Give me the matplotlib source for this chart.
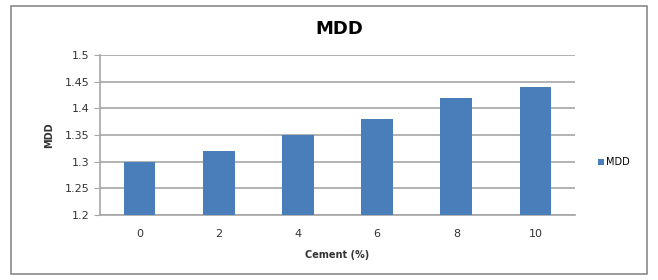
import numpy as np
import matplotlib.pyplot as plt
from matplotlib.patches import Rectangle

cement = ["0", "2", "4", "6", "8", "10"]
mdd = [1.30, 1.32, 1.35, 1.38, 1.42, 1.44]
y_ticks = [1.2, 1.25, 1.3, 1.35, 1.4, 1.45, 1.5]
y_labels = ["1.2", "1.25", "1.3", "1.35", "1.4", "1.45", "1.5"]

fig = plt.figure(figsize=(6.58, 2.8), dpi=100)
fig.patches.append(Rectangle((0.016, 0.02), 0.968, 0.96, transform=fig.transFigure,
                             fill=False, edgecolor="#8a8a8a", linewidth=1.2))
ax = fig.add_axes([0.152, 0.232, 0.722, 0.572])

x = np.arange(len(cement))
ax.bar(x, [v - 1.2 for v in mdd], bottom=1.2, width=0.4, color="#4a7ebb",
       label="MDD", zorder=3)

ax.set_ylim(1.2, 1.5)
ax.set_xlim(-0.5, len(cement) - 0.5)
ax.set_yticks(y_ticks)
ax.set_yticklabels(y_labels)
ax.set_xticks(x)
ax.set_xticklabels(cement)
ax.grid(axis="y", color="#a6a6a6", linewidth=1.2, zorder=0)
for s in ["top", "right"]:
    ax.spines[s].set_visible(False)
ax.spines["left"].set_color("#a6a6a6")
ax.spines["bottom"].set_color("#a6a6a6")
ax.spines["left"].set_linewidth(1.2)
ax.spines["bottom"].set_linewidth(1.2)
ax.tick_params(axis="y", length=4, color="#a6a6a6", labelsize=8, labelcolor="#333333")
ax.tick_params(axis="x", length=0, labelsize=8, labelcolor="#333333", pad=10)

ax.set_xlabel("Cement (%)", fontsize=7, fontweight="bold", color="#333333", labelpad=8)
ax.set_ylabel("MDD", fontsize=7, fontweight="bold", color="#333333", labelpad=8)
fig.text(0.515, 0.895, "MDD", fontsize=13, fontweight="bold", ha="center", va="center")

ax.legend(loc="center left", bbox_to_anchor=(1.03, 0.33), frameon=False, fontsize=7,
          handlelength=0.6, handleheight=0.6, handletextpad=0.2)

fig.savefig("out.png", dpi=100)
